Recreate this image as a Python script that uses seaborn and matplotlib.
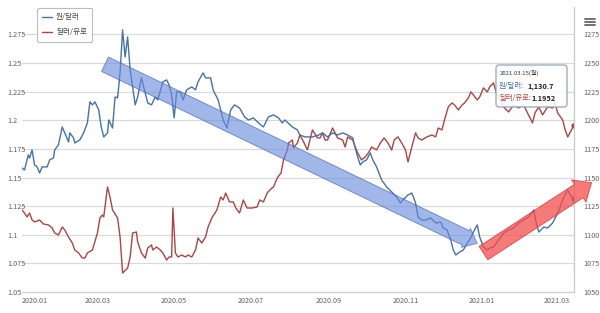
import numpy as np
import pandas as pd
import matplotlib
matplotlib.use("Agg")
import matplotlib.pyplot as plt
import matplotlib.dates as mdates
from matplotlib.patches import FancyBboxPatch
from matplotlib.lines import Line2D
from matplotlib.transforms import IdentityTransform
import seaborn as sns

# ---------------- data ----------------
krw_dates = [
    "2020-01-01", "2020-01-03", "2020-01-06", "2020-01-07", "2020-01-09", "2020-01-11", "2020-01-13", "2020-01-15", "2020-01-17", "2020-01-21",
    "2020-01-23", "2020-01-26", "2020-01-27", "2020-01-30", "2020-02-02", "2020-02-04", "2020-02-07", "2020-02-08", "2020-02-11", "2020-02-12",
    "2020-02-16", "2020-02-19", "2020-02-22", "2020-02-24", "2020-02-26", "2020-02-28", "2020-03-02", "2020-03-04", "2020-03-06", "2020-03-09",
    "2020-03-10", "2020-03-13", "2020-03-15", "2020-03-17", "2020-03-19", "2020-03-21", "2020-03-23", "2020-03-25", "2020-03-27", "2020-03-29",
    "2020-03-31", "2020-04-02", "2020-04-05", "2020-04-08", "2020-04-10", "2020-04-13", "2020-04-16", "2020-04-18", "2020-04-22", "2020-04-25",
    "2020-04-27", "2020-04-29", "2020-05-01", "2020-05-03", "2020-05-06", "2020-05-08", "2020-05-11", "2020-05-15", "2020-05-18", "2020-05-20",
    "2020-05-24", "2020-05-26", "2020-05-30", "2020-06-01", "2020-06-05", "2020-06-09", "2020-06-12", "2020-06-15", "2020-06-18", "2020-06-22",
    "2020-06-26", "2020-06-29", "2020-07-03", "2020-07-07", "2020-07-11", "2020-07-15", "2020-07-19", "2020-07-23", "2020-07-26", "2020-07-28",
    "2020-08-03", "2020-08-07", "2020-08-09", "2020-08-13", "2020-08-19", "2020-08-24", "2020-08-27", "2020-08-31", "2020-09-04", "2020-09-08",
    "2020-09-12", "2020-09-16", "2020-09-20", "2020-09-22", "2020-09-24", "2020-09-26", "2020-09-28", "2020-10-01", "2020-10-04", "2020-10-06",
    "2020-10-09", "2020-10-13", "2020-10-17", "2020-10-21", "2020-10-25", "2020-10-28", "2020-10-30", "2020-11-03", "2020-11-06", "2020-11-09",
    "2020-11-11", "2020-11-14", "2020-11-17", "2020-11-21", "2020-11-25", "2020-11-29", "2020-12-01", "2020-12-04", "2020-12-07", "2020-12-09",
    "2020-12-11", "2020-12-14", "2020-12-17", "2020-12-20", "2020-12-22", "2020-12-25", "2020-12-28", "2020-12-30", "2021-01-02", "2021-01-05",
    "2021-01-07", "2021-01-10", "2021-01-14", "2021-01-18", "2021-01-22", "2021-01-26", "2021-01-30", "2021-02-03", "2021-02-07", "2021-02-11",
    "2021-02-13", "2021-02-15", "2021-02-19", "2021-02-22", "2021-02-26", "2021-03-02", "2021-03-04", "2021-03-06", "2021-03-10", "2021-03-12",
    "2021-03-15",
]
krw_values = [
    1158.4, 1156.6, 1169.8, 1167.1, 1174.1, 1161.0, 1159.3, 1154.0, 1159.3, 1159.3,
    1165.4, 1167.1, 1174.1, 1178.5, 1194.2, 1189.0, 1181.1, 1189.0, 1184.6, 1180.2,
    1182.9, 1189.0, 1197.7, 1216.1, 1213.5, 1216.1, 1209.1, 1194.2, 1185.5, 1189.0,
    1200.3, 1193.3, 1220.4, 1219.6, 1241.4, 1279.0, 1255.4, 1272.9, 1244.0, 1229.2,
    1213.5, 1220.4, 1237.1, 1223.9, 1215.2, 1213.5, 1220.4, 1217.8, 1233.6, 1235.3,
    1230.9, 1222.2, 1202.1, 1224.8, 1224.8, 1217.8, 1226.6, 1229.2, 1226.6, 1233.6,
    1241.4, 1237.1, 1237.1, 1226.6, 1217.8, 1200.3, 1193.3, 1209.1, 1213.5, 1210.8,
    1203.0, 1200.3, 1202.1, 1197.7, 1194.2, 1203.0, 1204.7, 1202.1, 1197.7, 1200.3,
    1194.2, 1191.6, 1187.2, 1185.5, 1185.5, 1187.2, 1189.0, 1185.5, 1189.0, 1187.2,
    1189.0, 1187.2, 1184.6, 1175.9, 1168.0, 1161.0, 1163.6, 1165.4, 1171.5, 1165.4,
    1159.3, 1147.9, 1141.8, 1137.4, 1133.0, 1127.8, 1130.4, 1134.8, 1136.5, 1127.8,
    1115.6, 1112.9, 1112.9, 1114.7, 1110.3, 1111.2, 1105.9, 1104.2, 1095.5, 1086.7,
    1082.3, 1085.0, 1086.7, 1092.8, 1095.5, 1102.4, 1108.6, 1098.1, 1089.3, 1086.7,
    1088.5, 1089.3, 1095.5, 1101.6, 1104.2, 1105.9, 1110.3, 1112.9, 1115.6, 1121.7,
    1110.3, 1102.4, 1106.8, 1105.9, 1110.3, 1119.0, 1124.3, 1130.4, 1139.2, 1134.8,
    1130.7,
]

eur_dates = [
    "2020-01-01", "2020-01-03", "2020-01-05", "2020-01-07", "2020-01-09", "2020-01-11", "2020-01-15", "2020-01-18", "2020-01-22", "2020-01-25",
    "2020-01-27", "2020-01-30", "2020-02-02", "2020-02-04", "2020-02-07", "2020-02-10", "2020-02-12", "2020-02-15", "2020-02-18", "2020-02-20",
    "2020-02-22", "2020-02-26", "2020-03-01", "2020-03-03", "2020-03-05", "2020-03-06", "2020-03-09", "2020-03-11", "2020-03-13", "2020-03-17",
    "2020-03-19", "2020-03-21", "2020-03-25", "2020-03-27", "2020-03-29", "2020-04-01", "2020-04-02", "2020-04-05", "2020-04-08", "2020-04-10",
    "2020-04-13", "2020-04-14", "2020-04-17", "2020-04-20", "2020-04-22", "2020-04-25", "2020-04-27", "2020-04-29", "2020-04-30", "2020-05-02",
    "2020-05-04", "2020-05-07", "2020-05-10", "2020-05-12", "2020-05-15", "2020-05-18", "2020-05-20", "2020-05-23", "2020-05-26", "2020-05-28",
    "2020-05-31", "2020-06-04", "2020-06-07", "2020-06-09", "2020-06-11", "2020-06-14", "2020-06-17", "2020-06-19", "2020-06-22", "2020-06-25",
    "2020-06-28", "2020-07-02", "2020-07-06", "2020-07-08", "2020-07-11", "2020-07-14", "2020-07-16", "2020-07-19", "2020-07-22", "2020-07-25",
    "2020-07-27", "2020-07-30", "2020-07-31", "2020-08-03", "2020-08-04", "2020-08-07", "2020-08-09", "2020-08-12", "2020-08-15", "2020-08-17",
    "2020-08-19", "2020-08-23", "2020-08-25", "2020-08-27", "2020-08-29", "2020-08-31", "2020-09-04", "2020-09-06", "2020-09-08", "2020-09-12",
    "2020-09-14", "2020-09-16", "2020-09-20", "2020-09-22", "2020-09-24", "2020-09-27", "2020-09-30", "2020-10-03", "2020-10-05", "2020-10-09",
    "2020-10-12", "2020-10-15", "2020-10-18", "2020-10-21", "2020-10-23", "2020-10-26", "2020-10-29", "2020-11-01", "2020-11-03", "2020-11-06",
    "2020-11-09", "2020-11-11", "2020-11-14", "2020-11-18", "2020-11-22", "2020-11-25", "2020-11-27", "2020-11-30", "2020-12-02", "2020-12-05",
    "2020-12-08", "2020-12-10", "2020-12-13", "2020-12-16", "2020-12-18", "2020-12-21", "2020-12-23", "2020-12-25", "2020-12-28", "2020-12-30",
    "2021-01-02", "2021-01-05", "2021-01-07", "2021-01-10", "2021-01-12", "2021-01-18", "2021-01-22", "2021-01-26", "2021-01-30", "2021-02-03",
    "2021-02-06", "2021-02-10", "2021-02-12", "2021-02-15", "2021-02-18", "2021-02-22", "2021-02-26", "2021-02-28", "2021-03-02", "2021-03-06",
    "2021-03-08", "2021-03-10", "2021-03-13", "2021-03-15",
]
eur_values = [
    1.1217, 1.1190, 1.1156, 1.1190, 1.1129, 1.1112, 1.1129, 1.1094, 1.1086, 1.1059,
    1.1016, 1.0998, 1.1068, 1.1042, 1.0981, 1.0928, 1.0867, 1.0841, 1.0797, 1.0797,
    1.0841, 1.0867, 1.1016, 1.1147, 1.1173, 1.1156, 1.1418, 1.1330, 1.1217, 1.1147,
    1.0981, 1.0666, 1.0710, 1.0806, 1.1016, 1.1024, 1.0937, 1.0841, 1.0797, 1.0885,
    1.0911, 1.0867, 1.0893, 1.0867, 1.0841, 1.0780, 1.0806, 1.0806, 1.1234, 1.0841,
    1.0806, 1.0823, 1.0806, 1.0823, 1.0806, 1.0867, 1.0972, 1.0928, 1.0981, 1.1068,
    1.1147, 1.1217, 1.1330, 1.1304, 1.1365, 1.1287, 1.1287, 1.1234, 1.1190, 1.1304,
    1.1234, 1.1234, 1.1243, 1.1304, 1.1287, 1.1365, 1.1391, 1.1418, 1.1496, 1.1540,
    1.1654, 1.1741, 1.1802, 1.1828, 1.1759, 1.1802, 1.1872, 1.1811, 1.1741, 1.1828,
    1.1916, 1.1846, 1.1846, 1.1890, 1.1828, 1.1828, 1.1933, 1.1890, 1.1846, 1.1828,
    1.1767, 1.1855, 1.1828, 1.1767, 1.1715, 1.1654, 1.1680, 1.1724, 1.1767, 1.1741,
    1.1802, 1.1846, 1.1802, 1.1741, 1.1828, 1.1855, 1.1802, 1.1741, 1.1636, 1.1767,
    1.1890, 1.1846, 1.1828, 1.1855, 1.1872, 1.1855, 1.1933, 1.1916, 1.2003, 1.2117,
    1.2152, 1.2134, 1.2091, 1.2134, 1.2152, 1.2196, 1.2248, 1.2222, 1.2178, 1.2204,
    1.2283, 1.2248, 1.2292, 1.2327, 1.2248, 1.2117, 1.2073, 1.2134, 1.2108, 1.2134,
    1.2065, 1.1977, 1.2065, 1.2117, 1.2047, 1.2117, 1.2108, 1.2152, 1.2065, 1.2003,
    1.1916, 1.1855, 1.1916, 1.1952,
]

series_names = ["원/달러", "달러/유로"]
left_ticks = [1.05, 1.075, 1.1, 1.125, 1.15, 1.175, 1.2, 1.225, 1.25, 1.275]
left_tick_labels = ["1.05", "1.075", "1.1", "1.125", "1.15", "1.175", "1.2", "1.225", "1.25", "1.275"]
right_ticks = [1050, 1075, 1100, 1125, 1150, 1175, 1200, 1225, 1250, 1275]
right_tick_labels = ["1050", "1075", "1100", "1125", "1150", "1175", "1200", "1225", "1250", "1275"]
x_tick_dates = ["2020-01-01", "2020-03-01", "2020-05-01", "2020-07-01", "2020-09-01",
                "2020-11-01", "2021-01-01", "2021-03-01"]
x_tick_labels = ["2020.01", "2020.03", "2020.05", "2020.07", "2020.09",
                 "2020.11", "2021.01", "2021.03"]
tooltip_date = "2021.03.15(월)"
tooltip_krw = "1,130.7"
tooltip_eur = "1.1952"

# trend annotations (date, KRW-scale value)
down_trend = [("2020-03-07", 1249.0), ("2020-12-28", 1092.5)]
up_trend = [("2021-01-02", 1084.0), ("2021-03-29", 1145.5)]

# ---------------- style ----------------
sns.set_style("white")
plt.rcParams["font.family"] = ["Noto Sans CJK KR", "DejaVu Sans"]

BLUE = "#4572A7"
RED = "#AA4643"
TICK_C = "#606060"

W, H = 600, 313
fig = plt.figure(figsize=(W / 100, H / 100), dpi=100)
ax = fig.add_axes([22 / W, 1 - 292 / H, (574 - 22) / W, (292 - 7) / H])
ax2 = ax.twinx()

krw = pd.DataFrame({"date": pd.to_datetime(krw_dates), "value": krw_values})
eur = pd.DataFrame({"date": pd.to_datetime(eur_dates), "value": eur_values})

sns.lineplot(data=eur, x="date", y="value", ax=ax, color=RED, lw=1.0, legend=False)
sns.lineplot(data=krw, x="date", y="value", ax=ax2, color=BLUE, lw=1.0, legend=False)
sns.scatterplot(data=eur.tail(1), x="date", y="value", ax=ax, color=RED, s=14,
                edgecolor="none", legend=False, zorder=5)
sns.scatterplot(data=krw.tail(1), x="date", y="value", ax=ax2, color=BLUE, s=14,
                edgecolor="none", legend=False, zorder=5)

ax.set_xlim(pd.Timestamp("2020-01-01"), pd.Timestamp("2021-03-15"))
ax.set_ylim(1.05, 1.299)
ax2.set_ylim(1050, 1299)

ax.set_yticks(left_ticks)
ax.set_yticklabels(left_tick_labels, ha="left")
ax2.set_yticks(right_ticks)
ax2.set_yticklabels(right_tick_labels)
ax.set_xticks(pd.to_datetime(x_tick_dates))
ax.set_xticklabels(x_tick_labels)
ax.get_xticklabels()[0].set_ha("left")

for a in (ax, ax2):
    a.set_xlabel("")
    a.set_ylabel("")
ax.tick_params(axis="y", length=0, pad=10.8, labelsize=5.2, labelcolor=TICK_C)
ax2.tick_params(axis="y", length=0, pad=6.5, labelsize=5.2, labelcolor=TICK_C)
ax.tick_params(axis="x", length=0, pad=3.5, labelsize=5.2, labelcolor=TICK_C)

ax.yaxis.grid(True, color="#d9d9d9", lw=0.8)
ax.xaxis.grid(False)
ax2.grid(False)
for s in ("left", "top", "right"):
    ax.spines[s].set_visible(False)
ax.spines["bottom"].set_color("#c6d2de")
ax.spines["bottom"].set_linewidth(0.9)
for s in ("left", "top", "bottom"):
    ax2.spines[s].set_visible(False)
ax2.spines["right"].set_color("#c8c8c8")
ax2.spines["right"].set_linewidth(0.9)

# ---------------- trend arrows ----------------
def arrow(points, fc, ec, style, alpha):
    (d0, v0), (d1, v1) = points
    ax2.annotate("", xy=(mdates.date2num(pd.Timestamp(d1)), v1),
                 xytext=(mdates.date2num(pd.Timestamp(d0)), v0),
                 arrowprops=dict(arrowstyle=style, mutation_scale=1, shrinkA=0, shrinkB=0,
                                 fc=fc, ec=ec, lw=0.7, alpha=alpha),
                 annotation_clip=False, zorder=6)

arrow(down_trend, "#6a8bdc", "#3d5fae",
      "simple,head_length=9,head_width=15,tail_width=11.5", 0.62)
arrow(up_trend, "#f44e4e", "#d23a3a",
      "simple,head_length=11,head_width=19,tail_width=11.5", 0.75)

# ---------------- legend ----------------
leg = fig.legend([ax2.get_lines()[0], ax.get_lines()[0]], series_names,
                 loc="upper left", bbox_to_anchor=(37 / W, 1 - 8 / H),
                 fontsize=5.5, handlelength=1.2, handletextpad=0.6, borderpad=0.7,
                 labelspacing=0.9, frameon=True, fancybox=True, framealpha=1,
                 edgecolor="#bcbcbc", borderaxespad=0)
leg.get_frame().set_linewidth(0.8)
for t in leg.get_texts():
    t.set_color("#444444")

# ---------------- tooltip ----------------
tip = FancyBboxPatch((496, H - 107), 71, 42, boxstyle="round,pad=0,rounding_size=3",
                     transform=IdentityTransform(), fc="white", ec="#8ea3ba",
                     lw=1.0, alpha=0.88, zorder=20)
fig.add_artist(tip)

def ftxt(x, y, s, **kw):
    fig.text(x / W, 1 - y / H, s, va="center", ha="left", zorder=21, **kw)

ftxt(500, 73, tooltip_date, fontsize=4.3, color="#333333")
ftxt(499, 86, series_names[0] + ":", fontsize=5.3, color=BLUE)
ftxt(527, 86, tooltip_krw, fontsize=5.3, color="#222222", fontweight="bold")
ftxt(499, 98, series_names[1] + ":", fontsize=5.3, color=RED)
ftxt(531, 98, tooltip_eur, fontsize=5.3, color="#222222", fontweight="bold")

# menu icon
for yy in (19, 22, 25):
    fig.add_artist(Line2D([585 / W, 595 / W], [1 - yy / H] * 2, transform=fig.transFigure,
                          color="#666666", lw=1.3))

fig.savefig("out.png", dpi=100)
